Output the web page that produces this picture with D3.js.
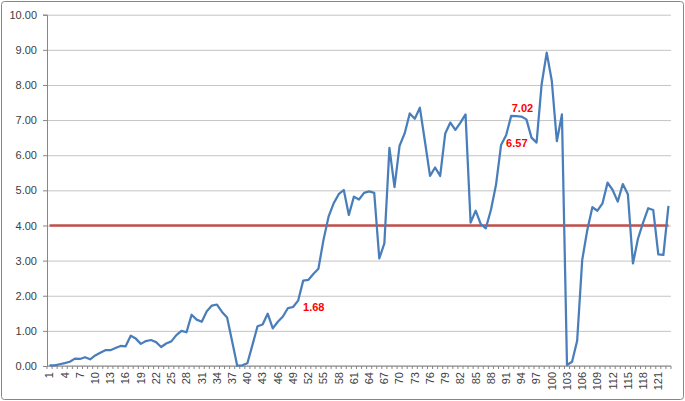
<!DOCTYPE html>
<html>
<head>
<meta charset="utf-8">
<script src="https://cdn.jsdelivr.net/npm/d3@7"></script>
<style>
  body { margin: 0; background: #fff; }
  svg { display: block; font-family: "Liberation Sans", Arial, sans-serif; }
  .axis text { fill: #404040; font-size: 11px; }
  .grid line { stroke: #c4c4c4; }
  .grid .domain { display: none; }
</style>
</head>
<body>
<div class="chart"></div>
<script>
// values, one per category (1..123)
var values = [
  0.02, 0.02, 0.05, 0.08, 0.12, 0.21, 0.20, 0.25, 0.19, 0.30,
  0.38, 0.45, 0.45, 0.51, 0.57, 0.56, 0.86, 0.78, 0.63, 0.71,
  0.74, 0.68, 0.54, 0.64, 0.70, 0.88, 1.00, 0.96, 1.46, 1.32,
  1.26, 1.56, 1.72, 1.75, 1.54, 1.38, 0.70, 0.01, 0.02, 0.08,
  0.60, 1.13, 1.18, 1.49, 1.07, 1.26, 1.41, 1.65, 1.68, 1.86,
  2.43, 2.45, 2.62, 2.77, 3.59, 4.25, 4.63, 4.89, 5.01, 4.30,
  4.82, 4.74, 4.93, 4.97, 4.93, 3.06, 3.49, 6.21, 5.09, 6.27,
  6.62, 7.19, 7.04, 7.35, 6.39, 5.41, 5.65, 5.41, 6.62, 6.93,
  6.72, 6.93, 7.16, 4.08, 4.42, 4.04, 3.92, 4.44, 5.15, 6.29,
  6.57, 7.12, 7.11, 7.10, 7.02, 6.50, 6.36, 8.02, 8.92, 8.12,
  6.40, 7.16, 0.03, 0.12, 0.72, 3.02, 3.87, 4.52, 4.42, 4.63,
  5.22, 5.01, 4.68, 5.18, 4.89, 2.92, 3.63, 4.08, 4.49, 4.44,
  3.18, 3.16, 4.56
];
var categories = values.map(function(d, i) { return i + 1; });
var thresholdValue = 4.00;
var yTicks = [0, 1, 2, 3, 4, 5, 6, 7, 8, 9, 10];
var xTickLabels = categories.filter(function(d) { return (d - 1) % 3 == 0; });
// data labels: category number of the labelled point
var labelCats = [49, 91, 95];

var W = 685, H = 401;
var margin = {top: 14.7, right: 14, bottom: 35, left: 47};
var innerW = W - margin.left - margin.right;
var innerH = H - margin.top - margin.bottom;

var svg = d3.select(".chart").append("svg")
  .attr("width", W).attr("height", H);

// outer chart frame
svg.append("rect")
  .attr("x", 1.5).attr("y", 1.5)
  .attr("width", W - 3).attr("height", H - 3)
  .attr("rx", 3)
  .attr("fill", "#fff")
  .attr("stroke", "#868686")
  .attr("stroke-width", 1);

var g = svg.append("g")
  .attr("transform", "translate(" + margin.left + "," + margin.top + ")");

var x = d3.scalePoint().domain(categories).range([0, innerW]).padding(0.5);
var xBand = d3.scaleBand().domain(categories).range([0, innerW]);
var y = d3.scaleLinear().domain([0, 10]).range([innerH, 0]);

// gridlines
g.append("g")
  .attr("class", "grid")
  .call(d3.axisLeft(y).tickValues(yTicks).tickSize(-innerW).tickFormat(""));

// y axis
var yAxis = g.append("g")
  .attr("class", "axis")
  .call(d3.axisLeft(y).tickValues(yTicks).tickSize(4).tickPadding(6)
    .tickFormat(d3.format(".2f")));
yAxis.selectAll("line").attr("stroke", "#868686");
yAxis.select(".domain").attr("stroke", "#868686");

// x axis: baseline, ticks between categories, every third label
var xAxis = g.append("g")
  .attr("class", "axis")
  .attr("transform", "translate(0," + innerH + ")");

xAxis.append("line")
  .attr("x1", 0).attr("x2", innerW)
  .attr("stroke", "#868686");

xAxis.selectAll(".cattick")
  .data(categories.concat(["end"]))
  .enter().append("line")
  .attr("class", "cattick")
  .attr("x1", function(d) { return d == "end" ? innerW : xBand(d); })
  .attr("x2", function(d) { return d == "end" ? innerW : xBand(d); })
  .attr("y1", 0).attr("y2", 3)
  .attr("stroke", "#868686");

xAxis.selectAll(".catlabel")
  .data(xTickLabels)
  .enter().append("text")
  .attr("class", "catlabel")
  .attr("transform", function(d) { return "translate(" + x(d) + ",6) rotate(-90)"; })
  .attr("text-anchor", "end")
  .attr("dy", "0.35em")
  .text(function(d) { return d; });

// threshold series
var line = d3.line()
  .x(function(d, i) { return x(categories[i]); })
  .y(function(d) { return y(d); });

g.append("path")
  .datum(categories.map(function() { return thresholdValue; }))
  .attr("fill", "none")
  .attr("stroke", "#c0504d")
  .attr("stroke-width", 2.5)
  .attr("d", line);

// main series
g.append("path")
  .datum(values)
  .attr("fill", "none")
  .attr("stroke", "#4a7ebb")
  .attr("stroke-width", 2.25)
  .attr("stroke-linejoin", "round")
  .attr("d", line);

// data labels
var labelOffsets = [[10, 4], [0, 12], [-4, -7]];
var labelAnchors = ["start", "start", "middle"];
g.selectAll(".datalabel")
  .data(labelCats)
  .enter().append("text")
  .attr("class", "datalabel")
  .attr("x", function(d, i) { return x(d) + labelOffsets[i][0]; })
  .attr("y", function(d, i) { return y(values[d - 1]) + labelOffsets[i][1]; })
  .attr("text-anchor", function(d, i) { return labelAnchors[i]; })
  .attr("fill", "#ff0000")
  .attr("font-size", 11)
  .attr("font-weight", "bold")
  .text(function(d) { return d3.format(".2f")(values[d - 1]); });
</script>
</body>
</html>
